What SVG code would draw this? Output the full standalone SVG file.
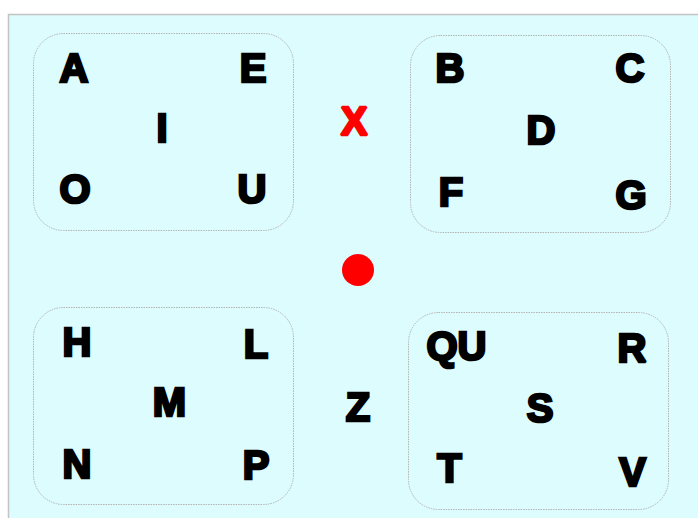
<svg xmlns="http://www.w3.org/2000/svg" width="698" height="518" viewBox="0 0 698 518">
<style>
.bg{fill:#DDFCFE;stroke:#C4C4C4;stroke-width:1.5}
.box{fill:#DDFCFE;stroke:#B4B4B4;stroke-width:1;stroke-dasharray:1.5 1}
.t{font-family:"Liberation Sans",Arial,sans-serif;font-weight:bold;font-size:40px;fill:#000;stroke:#000;stroke-width:2.6;stroke-linejoin:miter;stroke-miterlimit:2;text-anchor:middle}
.r{fill:#FF0000;stroke:#FF0000}
</style>
<rect width="698" height="518" fill="#FFFFFF"/>
<rect class="bg" x="8.5" y="14.5" width="700" height="520"/>
<g id="group-vowels">
<rect class="box" x="33.5" y="33.5" width="260" height="197" rx="30"/>
<text class="t" x="74" y="82">A</text>
<text class="t" x="253" y="82">E</text>
<text class="t" x="162" y="142">I</text>
<text class="t" x="75" y="203">O</text>
<text class="t" x="252" y="203">U</text>
</g>
<g id="group-bcdfg">
<rect class="box" x="410.5" y="35.5" width="260" height="197" rx="30"/>
<text class="t" x="450" y="82">B</text>
<text class="t" x="630" y="82">C</text>
<text class="t" x="541" y="144">D</text>
<text class="t" x="451" y="206">F</text>
<text class="t" x="631" y="209">G</text>
</g>
<g id="group-hlmnp">
<rect class="box" x="33.5" y="307.5" width="260" height="197" rx="30"/>
<text class="t" x="77" y="356">H</text>
<text class="t" x="256" y="358">L</text>
<text class="t" x="169.5" y="416">M</text>
<text class="t" x="77" y="478">N</text>
<text class="t" x="256" y="479">P</text>
</g>
<g id="group-qursTV">
<rect class="box" x="408.5" y="312.5" width="260" height="197" rx="30"/>
<text class="t" x="456.5" y="360">QU</text>
<text class="t" x="632" y="362">R</text>
<text class="t" x="540" y="422">S</text>
<text class="t" x="449.5" y="482">T</text>
<text class="t" x="632.5" y="486">V</text>
</g>
<g id="x-mark">
<text class="t r" x="354" y="135">X</text>
</g>
<g id="dot">
<circle cx="358" cy="270" r="16" fill="#FF0000"/>
</g>
<g id="z-letter">
<text class="t" x="358" y="421">Z</text>
</g>
<g id="connectors"/>
</svg>
